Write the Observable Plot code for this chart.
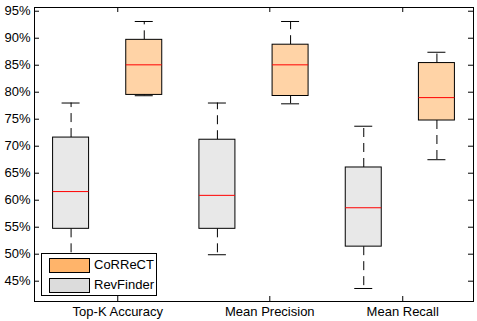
<!DOCTYPE html>
<html>
<head>
<meta charset="utf-8">
<script src="https://cdn.jsdelivr.net/npm/d3@7"></script>
<script src="https://cdn.jsdelivr.net/npm/@observablehq/plot@0.6"></script>
<style>
  html, body { margin: 0; padding: 0; background: #fff; }
  #wrap { position: relative; width: 477px; height: 321px; font-family: "Liberation Sans", Arial, sans-serif; }
  #legend { position: absolute; left: 41px; top: 253px; width: 114px; height: 41px; border: 1px solid #000; background: #fff; font-size: 13px; }
  .item { position: absolute; left: 7px; height: 14px; }
  .sw { position: absolute; left: 0; top: 0; width: 39px; height: 13px; border: 1px solid #000; }
  .lab { position: absolute; left: 45px; top: -2px; white-space: nowrap; line-height: 18px; }
</style>
</head>
<body>
<div id="wrap"></div>
<script>
const groups = ["Top-K Accuracy", "Mean Precision", "Mean Recall"];
const seriesNames = ["RevFinder", "CoRReCT"];
// RevFinder stats per group
const revLow = [49.5, 49.9, 43.65];
const revQ1 = [54.7, 54.7, 51.4];
const revMed = [61.6, 60.9, 58.6];
const revQ3 = [71.6, 71.2, 66.06];
const revHigh = [78.0, 78.0, 73.7];
// CoRReCT stats per group
const corLow = [79.35, 77.85, 67.5];
const corQ1 = [79.5, 79.3, 74.76];
const corMed = [85.07, 85.07, 79.0];
const corQ3 = [89.7, 88.8, 85.4];
const corHigh = [93.1, 93.1, 87.4];
const yTicks = [45, 50, 55, 60, 65, 70, 75, 80, 85, 90, 95];
const xTickPos = [1.638, 3.716, 5.533];

const boxFill = {RevFinder: "#e8e8e8", CoRReCT: "#ffd3a6"};
const legendFill = {RevFinder: "#dcdcdc", CoRReCT: "#ffb46a"};

const rows = [];
groups.forEach((g, i) => {
  rows.push({group: g, series: "RevFinder", pos: i * 2 + 1, low: revLow[i], q1: revQ1[i], med: revMed[i], q3: revQ3[i], high: revHigh[i]});
  rows.push({group: g, series: "CoRReCT", pos: i * 2 + 2, low: corLow[i], q1: corQ1[i], med: corMed[i], q3: corQ3[i], high: corHigh[i]});
});

const xDomain = [0.5, 6.5];
const yDomain = [41.24, 95.69];
const bw = 0.246, cw = 0.123;
const W = 477, H = 321, mL = 34, mR = 4, mT = 7, mB = 20;
const xu = (xDomain[1] - xDomain[0]) / (W - mL - mR);
const yu = (yDomain[1] - yDomain[0]) / (H - mT - mB);
const tk = 5;

const chart = Plot.plot({
  width: W, height: H,
  marginLeft: mL, marginRight: mR, marginTop: mT, marginBottom: mB,
  style: {fontFamily: "Liberation Sans, Arial, sans-serif", fontSize: "13px", color: "#000", background: "#fff"},
  x: {domain: xDomain, axis: null, label: null},
  y: {domain: yDomain, axis: null, label: null},
  marks: [
    // whiskers (dashed)
    Plot.ruleX(rows, {x: "pos", y1: "q3", y2: "high", stroke: "#000", strokeDasharray: "9,6"}),
    Plot.ruleX(rows, {x: "pos", y1: "q1", y2: "low", stroke: "#000", strokeDasharray: "9,6"}),
    // caps
    Plot.ruleY(rows, {y: "high", x1: d => d.pos - cw, x2: d => d.pos + cw, stroke: "#000"}),
    Plot.ruleY(rows, {y: "low", x1: d => d.pos - cw, x2: d => d.pos + cw, stroke: "#000"}),
    // boxes
    Plot.rect(rows, {x1: d => d.pos - bw, x2: d => d.pos + bw, y1: "q1", y2: "q3", fill: d => boxFill[d.series], stroke: "#000", strokeWidth: 1}),
    // medians
    Plot.ruleY(rows, {y: "med", x1: d => d.pos - bw, x2: d => d.pos + bw, stroke: "#ff0000"}),
    // inward ticks
    Plot.ruleY(yTicks, {y: d => d, x1: xDomain[0], x2: xDomain[0] + tk * xu, stroke: "#000"}),
    Plot.ruleY(yTicks, {y: d => d, x1: xDomain[1] - tk * xu, x2: xDomain[1], stroke: "#000"}),
    Plot.ruleX(xTickPos, {x: d => d, y1: yDomain[0], y2: yDomain[0] + tk * yu, stroke: "#000"}),
    Plot.ruleX(xTickPos, {x: d => d, y1: yDomain[1] - tk * yu, y2: yDomain[1], stroke: "#000"}),
    Plot.axisY(yTicks, {tickSize: 0, tickPadding: 4, tickFormat: d => d + "%", fontSize: 13, label: null}),
    Plot.axisX(xTickPos, {tickSize: 0, tickPadding: 5, tickFormat: d => groups[xTickPos.indexOf(d)], fontSize: 13, label: null}),
    Plot.frame({stroke: "#000"})
  ]
});

const wrap = document.getElementById("wrap");
wrap.appendChild(chart);

const legend = document.createElement("div");
legend.id = "legend";
["CoRReCT", "RevFinder"].forEach((s, i) => {
  const it = document.createElement("div");
  it.className = "item";
  it.style.top = (4 + i * 20) + "px";
  const sw = document.createElement("div");
  sw.className = "sw";
  sw.style.background = legendFill[s];
  const lab = document.createElement("span");
  lab.className = "lab";
  lab.textContent = s;
  it.appendChild(sw); it.appendChild(lab);
  legend.appendChild(it);
});
wrap.appendChild(legend);
</script>
</body>
</html>
